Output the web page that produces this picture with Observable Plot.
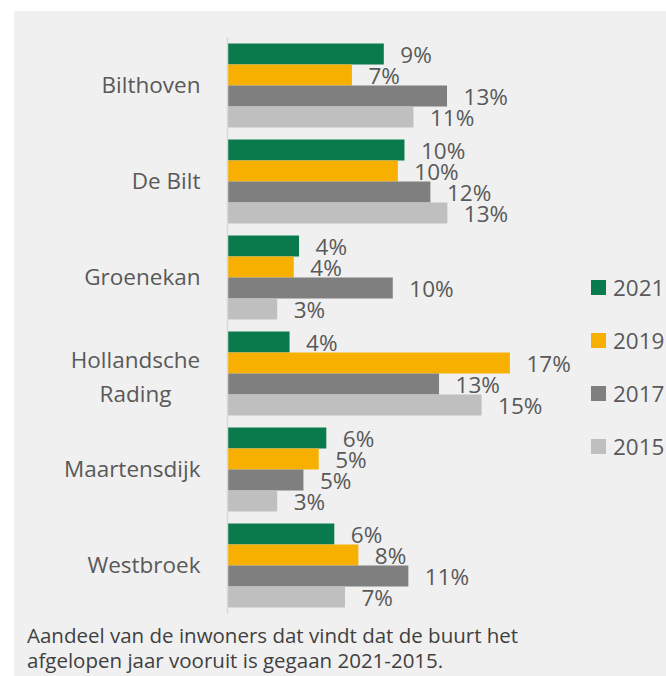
<!DOCTYPE html>
<html>
<head>
<meta charset="utf-8">
<script src="https://cdn.jsdelivr.net/npm/d3@7"></script>
<script src="https://cdn.jsdelivr.net/npm/@observablehq/plot@0.6"></script>
<style>
  body { margin: 0; background: #ffffff; }
  #wrap { position: relative; width: 666px; height: 676px; background: #ffffff; overflow: hidden; font-family: "Open Sans", sans-serif; }
  #panel { position: absolute; left: 14px; top: 11px; right: 0; bottom: 0; background: #f0f0f0; }
  #chart { position: absolute; left: 0; top: 0; }
  #legend { position: absolute; left: 591px; top: 271px; }
  .item { display: flex; align-items: center; height: 32px; margin-bottom: 21.3px; font-size: 22.5px; color: #595959; white-space: nowrap; }
  .sw { width: 15px; height: 15px; margin-right: 7px; }
  #caption { position: absolute; left: 27px; top: 623px; font-size: 20.5px; line-height: 25px; color: #404040; white-space: nowrap; }
</style>
</head>
<body>
<div id="wrap">
  <div id="panel"></div>
  <div id="chart"></div>
  <div id="legend"></div>
  <div id="caption">Aandeel van de inwoners dat vindt dat de buurt het<br>afgelopen jaar vooruit is gegaan 2021-2015.</div>
</div>
<script>
const categories = ["Bilthoven", "De Bilt", "Groenekan", "Hollandsche Rading", "Maartensdijk", "Westbroek"];
const series = ["2021", "2019", "2017", "2015"];
const colors = ["#087a4c", "#f7b000", "#7f7f7f", "#bfbfbf"];
const v2021 = [9.25, 10.47, 4.25, 3.69, 5.86, 6.33];
const v2019 = [7.37, 10.08, 3.94, 16.69, 5.41, 7.75];
const v2017 = [12.98, 12.0, 9.78, 12.51, 4.51, 10.7];
const v2015 = [11.0, 13.0, 2.96, 15.02, 2.96, 6.96];
const l2021 = ["9%", "10%", "4%", "4%", "6%", "6%"];
const l2019 = ["7%", "10%", "4%", "17%", "5%", "8%"];
const l2017 = ["13%", "12%", "10%", "13%", "5%", "11%"];
const l2015 = ["11%", "13%", "3%", "15%", "3%", "7%"];

const values = [v2021, v2019, v2017, v2015];
const labels = [l2021, l2019, l2017, l2015];
const data = categories.flatMap((c, i) => series.map((s, j) => ({category: c, series: s, value: values[j][i], label: labels[j][i]})));

const txt = "#595959";
const chart = Plot.plot({
  width: 666,
  height: 620,
  marginLeft: 227,
  marginRight: 100,
  marginTop: 36.5,
  marginBottom: 5.5,
  style: {background: "transparent", fontFamily: "'Open Sans', sans-serif"},
  x: {domain: [0, 20], axis: null},
  y: {domain: series, axis: null, padding: 0},
  fy: {domain: categories, axis: null, paddingInner: 0.113, paddingOuter: 0.06},
  color: {domain: series, range: colors},
  facet: {data: data, y: "category"},
  marks: [
    Plot.barX(data, {x: "value", y: "series", fill: "series"}),
    Plot.ruleX([0], {stroke: "#d9d9d9", strokeWidth: 1.5, insetTop: -5.6, insetBottom: -5.6}),
    Plot.text(data, {x: "value", y: "series", text: "label", textAnchor: "start", dx: 16, dy: 1.5, fontSize: 22.5, fill: txt}),
    Plot.text(data, {filter: d => d.series === "2021" && d.category !== "Hollandsche Rading", text: "category", frameAnchor: "left", textAnchor: "end", dx: -27, fontSize: 22.5, fill: txt}),
    Plot.text(data, {filter: d => d.series === "2021" && d.category === "Hollandsche Rading", text: () => "Hollandsche\nRading", frameAnchor: "left", textAnchor: "middle", dx: -92, lineHeight: 1.5, fontSize: 22.5, fill: txt})
  ]
});
document.getElementById("chart").appendChild(chart);

const legend = document.getElementById("legend");
series.forEach((s, i) => {
  const it = document.createElement("div");
  it.className = "item";
  it.innerHTML = `<div class="sw" style="background:${colors[i]}"></div><span>${s}</span>`;
  legend.appendChild(it);
});
</script>
</body>
</html>
